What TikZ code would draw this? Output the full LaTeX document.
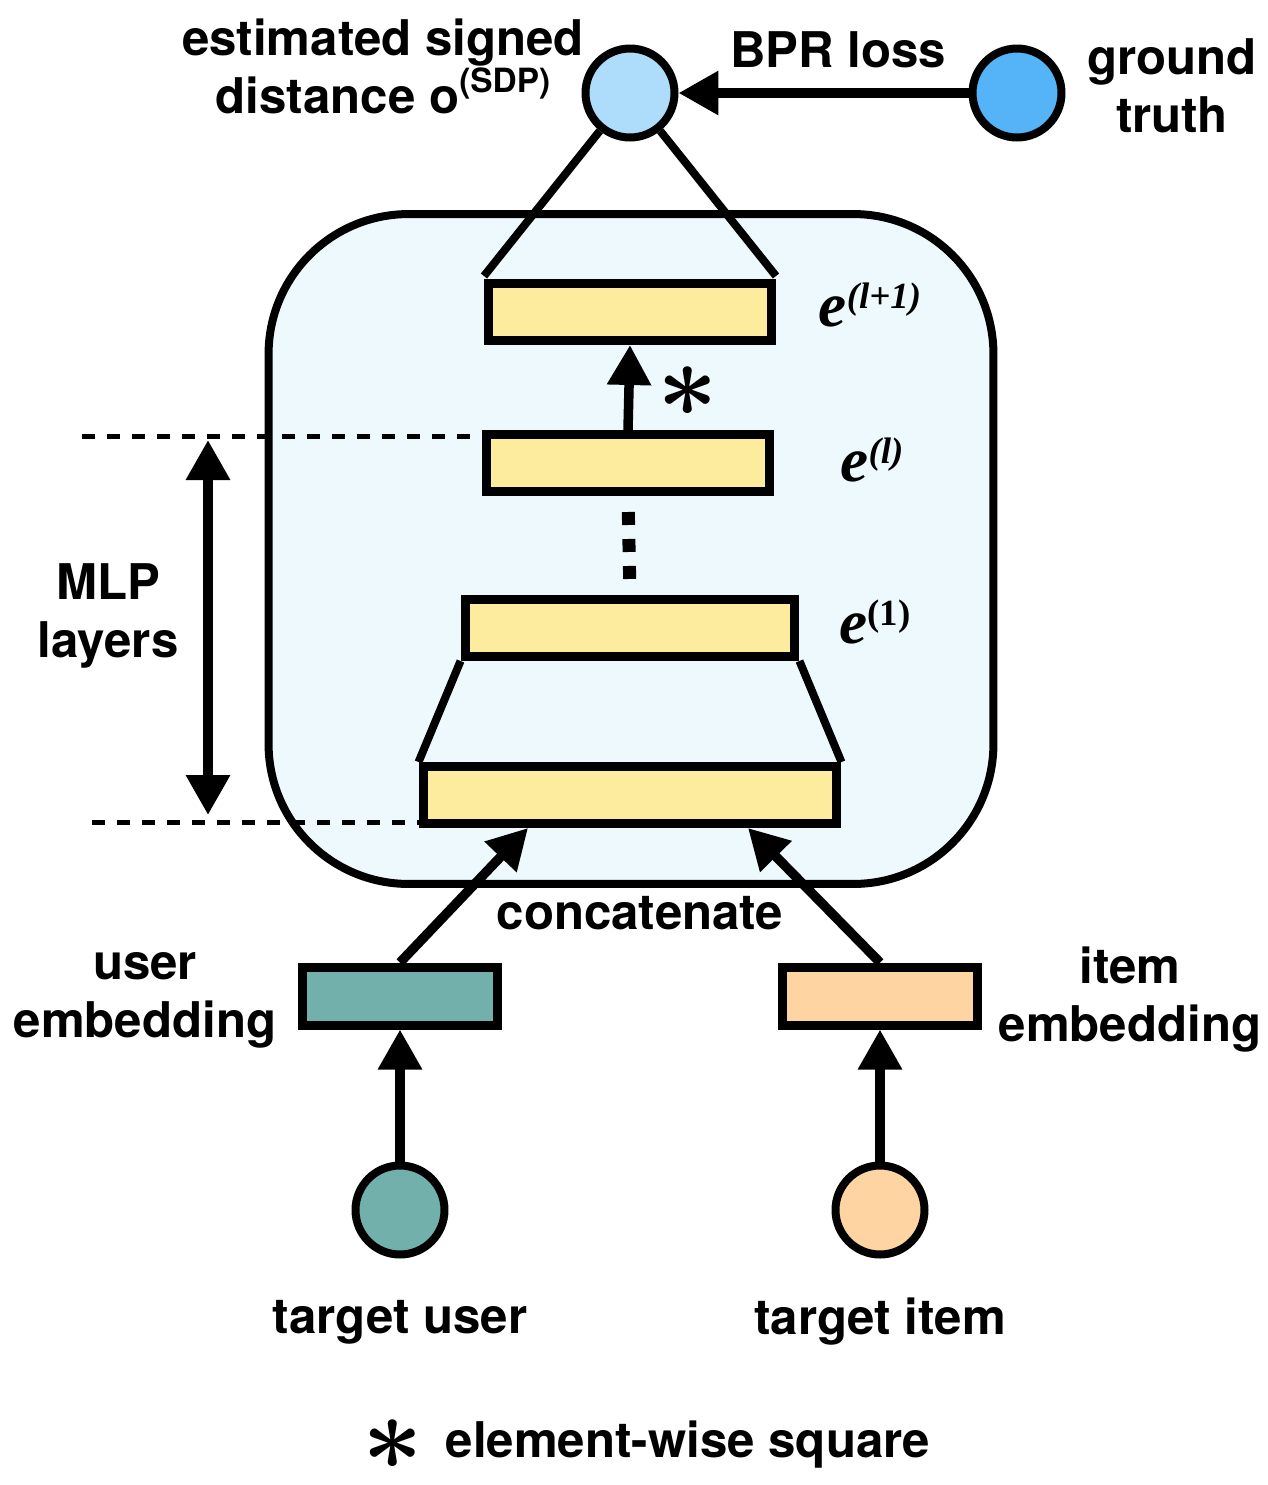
\RequirePackage{fix-cm}
\documentclass[tikz,border=0pt]{standalone}
\usepackage{fontspec}
\setmainfont{TeX Gyre Heros}
\newfontfamily\timesfont{Liberation Serif}
\usetikzlibrary{arrows.meta, positioning}

\definecolor{outblue}{HTML}{AEDCFB}
\definecolor{truthblue}{HTML}{55B4F8}
\definecolor{panelbg}{HTML}{EEF9FE}
\definecolor{layeryellow}{HTML}{FDEC9E}
\definecolor{userteal}{HTML}{72B0AC}
\definecolor{itempeach}{HTML}{FDD4A2}

% layer name e^(...) in bold italic serif
\newcommand{\elabel}[1]{{\timesfont\bfseries\itshape\fontsize{36}{36}\selectfont e\raisebox{0.36cm}{\fontsize{21}{21}\selectfont #1}}}

\begin{document}
\begin{tikzpicture}[x=0.02cm, y=-0.02cm,
    lbl/.style={font=\bfseries\fontsize{28}{33}\selectfont, align=center, inner sep=0pt},
    layer/.style={draw, line width=0.18cm, fill=layeryellow, minimum height=1.14cm, inner sep=0pt},
    embbox/.style={draw, line width=0.18cm, minimum width=3.92cm, minimum height=1.16cm, inner sep=0pt},
    ball/.style={draw, circle, line width=0.16cm, minimum size=1.78cm, inner sep=0pt},
    arr/.style={line width=0.19cm, -{Triangle[length=0.8cm, width=0.84cm]}},
    guide/.style={line width=0.1cm, dash pattern=on 0.26cm off 0.24cm},
    starsym/.style={inner sep=0pt, font=\fontsize{60}{60}\selectfont}]
    \useasboundingbox (0,0) rectangle (1268,1485);

    % MLP panel
    \node[draw, line width=0.16cm, fill=panelbg, rounded corners=2.8cm, minimum width=14.5cm, minimum height=13.4cm] (panel) at (631,549) {};

    % output and ground truth
    \node[ball, fill=outblue] (out) at (630,93) {};
    \node[ball, fill=truthblue] (gt) at (1017,93) {};
    \node[lbl] at (383,66) {estimated signed\\distance o\raisebox{0.42cm}{\fontsize{19}{19}\selectfont(SDP)}};
    \node[lbl] at (838,50) {BPR loss};
    \node[lbl] at (1172,86) {ground\\truth};
    \draw[arr] (gt) -- (out);

    % layers
    \draw[line width=0.16cm] (out) -- (484,276);
    \draw[line width=0.16cm] (out) -- (776,276);
    \node[layer, minimum width=5.68cm] (top) at (630,312) {};
    \node[layer, minimum width=5.68cm] (el) at (628,463) {};
    \node[layer, minimum width=6.6cm] (e1) at (630,628) {};
    \node[layer, minimum width=8.28cm] (bot) at (630,795) {};
    \draw[line width=0.16cm] (e1.south west) -- (bot.north west);
    \draw[line width=0.16cm] (e1.south east) -- (bot.north east);
    \draw[arr] (el.north) -- (top.south);
    \node[starsym] (sq) at (688,392) {{\boldmath$\ast$}};
    \draw[line width=0.26cm, dash pattern=on 0.26cm off 0.28cm, shorten <=0.32cm, shorten >=0.32cm] (el.south) -- (e1.north);

    \node at (870,305) {\elabel{(\textit{l}+\textit{1})}};
    \node at (872,460) {\elabel{(\textit{l})}};
    \node at (875,622) {\elabel{\upshape(1)}};

    % MLP layers span
    \coordinate (dtop) at (82,436);
    \coordinate (dbot) at (92,822);
    \draw[guide] (dtop) -- (dtop -| el.west);
    \draw[guide] (dbot) -- (dbot -| bot.west);
    \coordinate (spantop) at (208,440);
    \coordinate (spanbot) at (208,815);
    \draw[line width=0.19cm, {Triangle[length=0.8cm, width=0.84cm]}-{Triangle[length=0.8cm, width=0.84cm]}] (spantop) -- (spanbot);
    \node[lbl] at (108,616) {MLP\\layers};

    % embeddings
    \node[embbox, fill=userteal] (ue) at (400,996) {};
    \node[embbox, fill=itempeach] (ie) at (880,996) {};
    \node[lbl] at (145,1000) {user\\embedding};
    \node[lbl] at (1130,1000) {item\\embedding};
    \draw[arr] (ue.north) -- ([xshift=-2.04cm]bot.south);
    \draw[arr] (ie.north) -- ([xshift=2.36cm]bot.south);
    \node[lbl] at (640,913) {concatenate};

    % inputs
    \node[ball, fill=userteal] (tu) at (400,1210) {};
    \node[ball, fill=itempeach] (ti) at (880,1210) {};
    \draw[arr] (tu) -- (ue);
    \draw[arr] (ti) -- (ie);
    \node[lbl] at (400,1322) {target user};
    \node[lbl] at (880,1322) {target item};

    % legend
    \node[starsym] (legstar) at (393,1445) {{\boldmath$\ast$}};
    \node[lbl] (legend) at (688,1445) {element-wise square};
\end{tikzpicture}
\end{document}
